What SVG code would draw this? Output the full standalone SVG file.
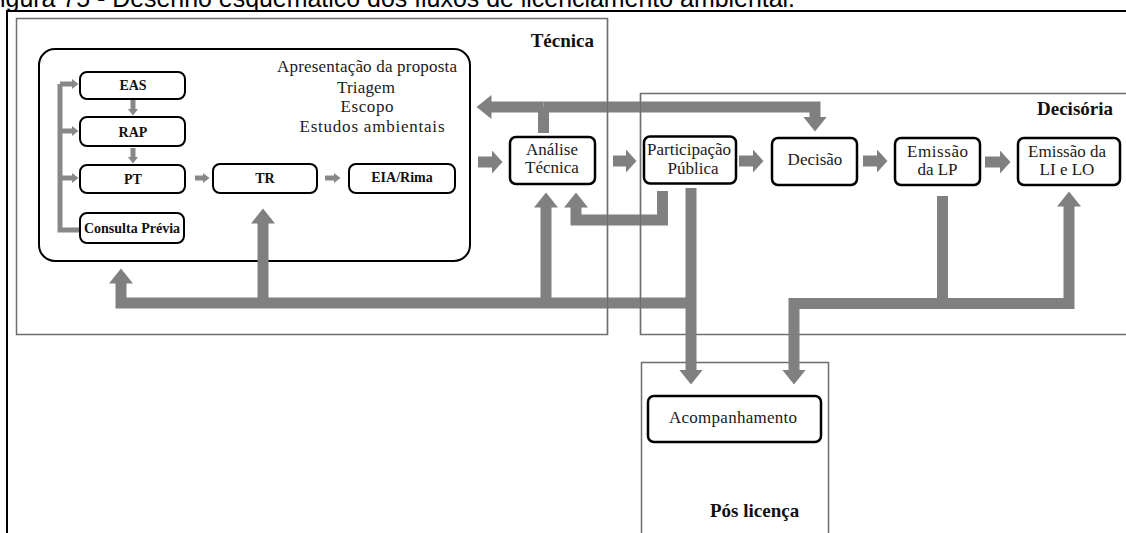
<svg xmlns="http://www.w3.org/2000/svg" width="1126" height="533" viewBox="0 0 1126 533">
  <style>
    .frame { fill: none; stroke: #6e6e6e; stroke-width: 1.5; }
    .zone { font-family: "Liberation Serif", serif; font-weight: bold; font-size: 19px; fill: #111; }
    .main { fill: #fff; stroke: #000; stroke-width: 2.5; }
    .small { fill: #fff; stroke: #000; stroke-width: 2; }
    .lbl { font-family: "Liberation Serif", serif; font-size: 17px; fill: #1a1a1a; text-anchor: middle; }
    .blbl { font-family: "Liberation Serif", serif; font-weight: bold; font-size: 14px; fill: #111; text-anchor: middle; }
    .bar { fill: none; stroke: #808080; stroke-width: 11; stroke-linejoin: miter; }
    .thin { fill: none; stroke: #888; stroke-width: 5; stroke-linejoin: miter; }
  </style>
  <defs>
    <marker id="head" markerUnits="userSpaceOnUse" viewBox="0 -13 16 26" refX="0.5" refY="0" markerWidth="16" markerHeight="26" orient="auto">
      <path d="M0,-12 L15,0 L0,12 z" fill="#808080"/>
    </marker>
    <marker id="headShort" markerUnits="userSpaceOnUse" viewBox="0 -13 12 26" refX="0.5" refY="0" markerWidth="12" markerHeight="26" orient="auto">
      <path d="M0,-12 L11,0 L0,12 z" fill="#808080"/>
    </marker>
    <marker id="tiny" markerUnits="userSpaceOnUse" viewBox="0 -6 8 12" refX="0.5" refY="0" markerWidth="8" markerHeight="12" orient="auto">
      <path d="M0,-5.5 L7,0 L0,5.5 z" fill="#888"/>
    </marker>
  </defs>

  <rect width="1126" height="533" fill="#fff"/>

  <!-- caption, cut by the page edge -->
  <text x="0" y="7" font-family="Liberation Sans, Arial, sans-serif" font-size="25" textLength="795" lengthAdjust="spacingAndGlyphs" fill="#000">igura 75 - Desenho esquemático dos fluxos de licenciamento ambiental.</text>

  <!-- page frame -->
  <path d="M7,540 V11 H1130" fill="none" stroke="#000" stroke-width="2"/>

  <!-- phase regions -->
  <g id="regions">
    <rect class="frame" x="16.5" y="18.5" width="591" height="316"/>
    <text class="zone" x="594" y="47" text-anchor="end">Técnica</text>
    <rect class="frame" x="640.5" y="93.5" width="500" height="241"/>
    <text class="zone" x="1113" y="115" text-anchor="end">Decisória</text>
    <rect class="frame" x="641.5" y="362.5" width="187" height="200"/>
    <text class="zone" x="710" y="517">Pós licença</text>
  </g>

  <!-- studies block -->
  <g id="estudos">
    <rect x="39" y="49" width="431" height="212" rx="16" fill="none" stroke="#000" stroke-width="2"/>
    <text class="lbl" x="367" y="72" textLength="180">Apresentação da proposta</text>
    <text class="lbl" x="366" y="93" textLength="58">Triagem</text>
    <text class="lbl" x="367" y="112" textLength="53">Escopo</text>
    <text class="lbl" x="372" y="132" textLength="145">Estudos ambientais</text>
  </g>

  <!-- connectors -->
  <g id="connectors">
    <!-- left bracket into EAS / RAP / PT, from Consulta Prévia -->
    <path class="thin" d="M80,230 H60 V84"/>
    <path class="thin" d="M60,84 H72" marker-end="url(#tiny)"/>
    <path class="thin" d="M60,131 H72" marker-end="url(#tiny)"/>
    <path class="thin" d="M60,178 H72" marker-end="url(#tiny)"/>
    <path class="thin" d="M133,100 V109" marker-end="url(#tiny)"/>
    <path class="thin" d="M133,148 V157" marker-end="url(#tiny)"/>
    <path class="thin" d="M195,178 H203" marker-end="url(#tiny)"/>
    <path class="thin" d="M325,178 H334" marker-end="url(#tiny)"/>

    <!-- main horizontal flow -->
    <path class="bar" stroke-width="12" d="M478,162 H492" marker-end="url(#headShort)"/>
    <path class="bar" stroke-width="12" d="M613,161 H626" marker-end="url(#headShort)"/>
    <path class="bar" stroke-width="12" d="M739,161 H753" marker-end="url(#headShort)"/>
    <path class="bar" stroke-width="12" d="M863,161 H877" marker-end="url(#headShort)"/>
    <path class="bar" stroke-width="12" d="M985,162 H1000" marker-end="url(#headShort)"/>

    <!-- top return: Análise Técnica back to studies and on to Decisão -->
    <path class="bar" d="M543.5,133 V107"/>
    <path class="bar" d="M543.5,107 H491" marker-end="url(#head)"/>
    <path class="bar" d="M543.5,107 H815 V117" marker-end="url(#head)"/>

    <!-- Participação Pública back to Análise Técnica -->
    <path class="bar" d="M662.5,191 V220 H576 V207" marker-end="url(#head)"/>

    <!-- bottom return line -->
    <path class="bar" d="M691,303 H121 V283" marker-end="url(#head)"/>
    <path class="bar" d="M263,303 V223" marker-end="url(#head)"/>
    <path class="bar" d="M546,303 V207" marker-end="url(#head)"/>
    <path class="bar" d="M691,188 V370" marker-end="url(#head)"/>

    <!-- Emissão da LP to follow-up and to LI / LO -->
    <path class="bar" d="M942.5,196 V303.5 H1069 V206" marker-end="url(#head)"/>
    <path class="bar" d="M942.5,303.5 H794 V370" marker-end="url(#head)"/>
  </g>

  <!-- region borders that show over the connectors -->
  <path d="M607.5,18.5 V334.5 M640.5,93.5 V334.5" fill="none" stroke="#6e6e6e" stroke-width="1.2"/>

  <!-- study documents -->
  <g id="eas"><rect class="small" x="80" y="72" width="105" height="27" rx="7"/><text class="blbl" x="133" y="90">EAS</text></g>
  <g id="rap"><rect class="small" x="80" y="117" width="105" height="29" rx="7"/><text class="blbl" x="133" y="137">RAP</text></g>
  <g id="pt"><rect class="small" x="80" y="165" width="105" height="28" rx="7"/><text class="blbl" x="133" y="184">PT</text></g>
  <g id="consulta"><rect class="small" x="80" y="213" width="104" height="30" rx="7"/><text class="blbl" x="132" y="233">Consulta Prévia</text></g>
  <g id="tr"><rect class="small" x="213" y="164" width="104" height="29" rx="7"/><text class="blbl" x="265" y="183">TR</text></g>
  <g id="eia"><rect class="small" x="349" y="164" width="106" height="29" rx="7"/><text class="blbl" x="402" y="182">EIA/Rima</text></g>

  <!-- process steps -->
  <g id="analise"><rect class="main" x="510" y="137" width="85" height="47" rx="6"/><text class="lbl" x="552" y="155">Análise</text><text class="lbl" x="552" y="173">Técnica</text></g>
  <g id="participacao"><rect class="main" x="644" y="136.5" width="92" height="47" rx="6"/><text class="lbl" x="689" y="154.5" textLength="84">Participação</text><text class="lbl" x="693" y="174">Pública</text></g>
  <g id="decisao"><rect class="main" x="772" y="138" width="85" height="47" rx="6"/><text class="lbl" x="815" y="165">Decisão</text></g>
  <g id="emissao-lp"><rect class="main" x="895" y="138" width="85" height="47" rx="6"/><text class="lbl" x="937.5" y="157" textLength="61">Emissão</text><text class="lbl" x="937.5" y="175">da LP</text></g>
  <g id="emissao-li-lo"><rect class="main" x="1018" y="138" width="102" height="47" rx="6"/><text class="lbl" x="1067" y="157" textLength="78">Emissão da</text><text class="lbl" x="1067" y="175">LI e LO</text></g>
  <g id="acompanhamento"><rect class="main" x="648" y="396" width="173" height="46" rx="6"/><text class="lbl" x="733" y="423" textLength="128">Acompanhamento</text></g>
</svg>
